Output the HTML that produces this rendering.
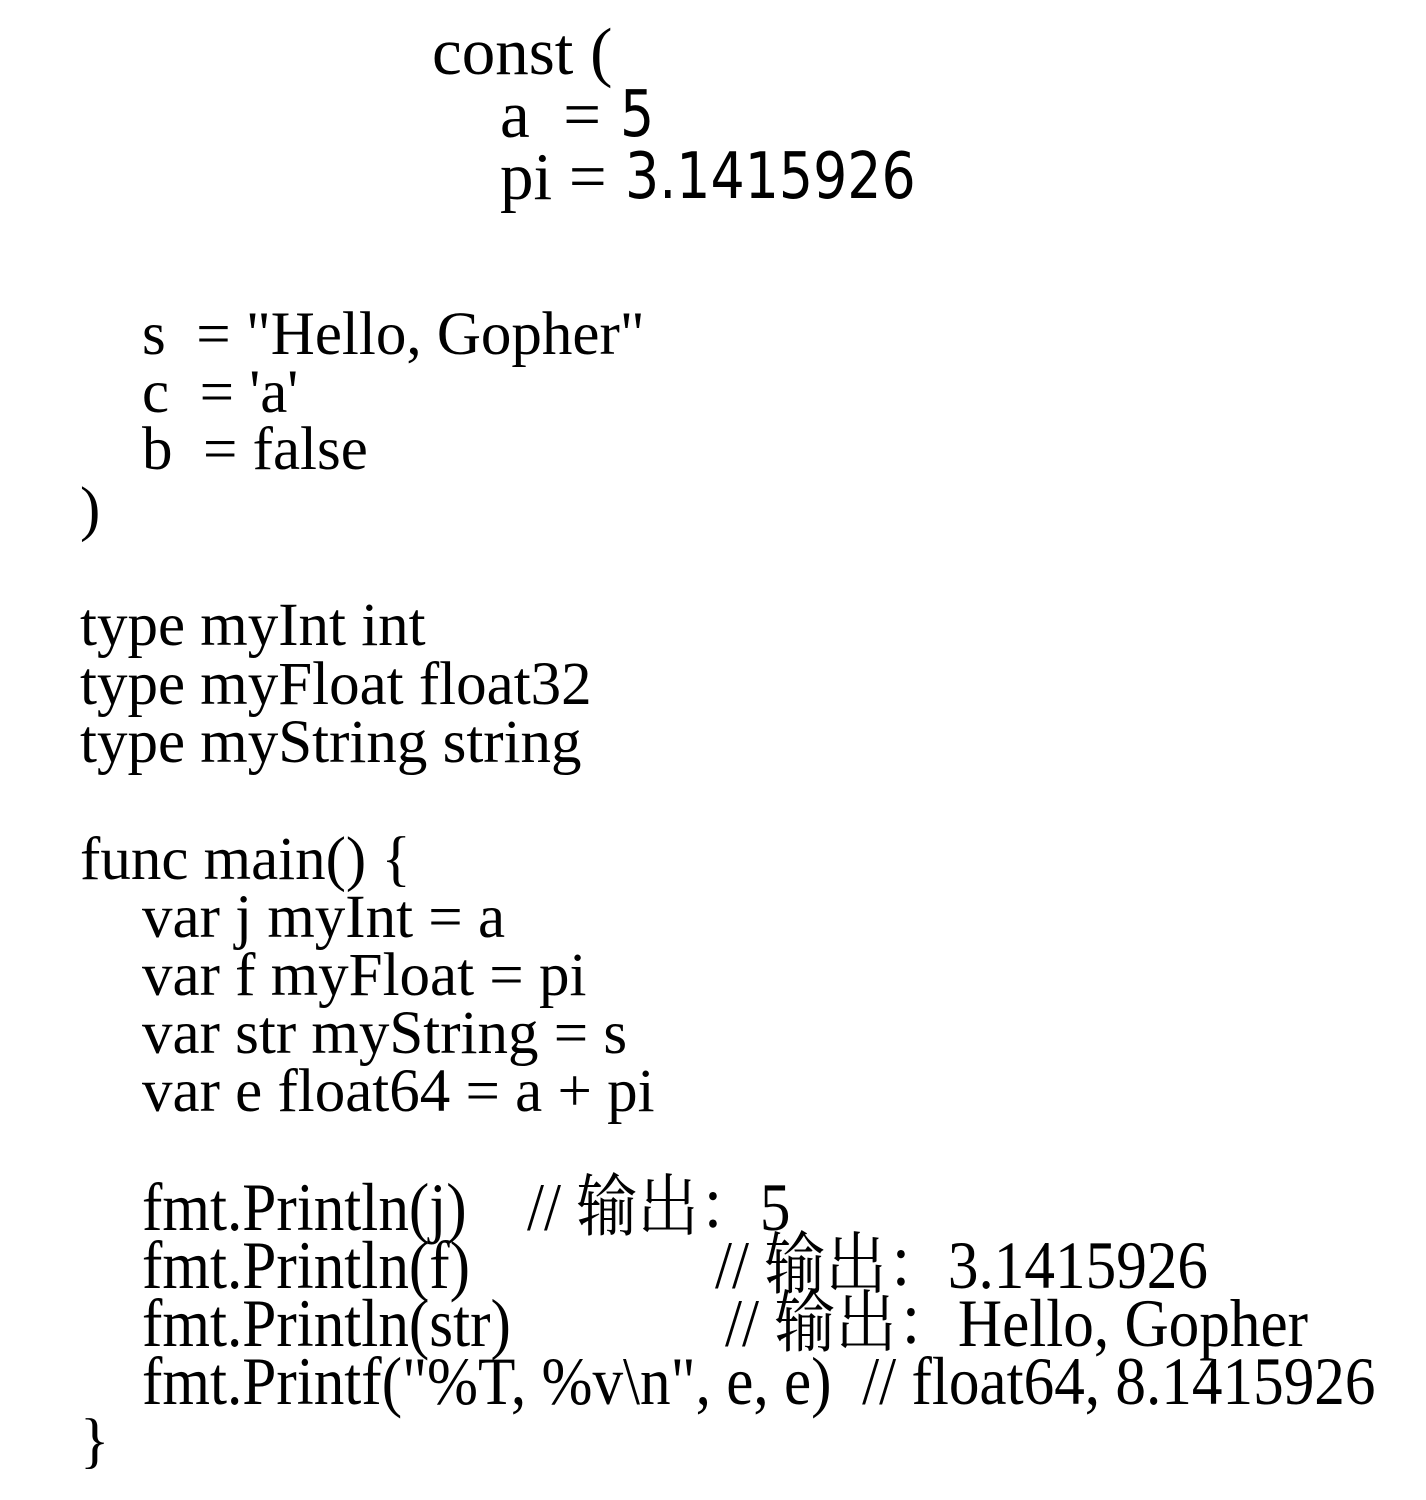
<!DOCTYPE html>
<html><head><meta charset="utf-8"><style>
html,body{margin:0;padding:0;background:#fff;}
body{width:1426px;height:1500px;position:relative;overflow:hidden;}
.l{position:absolute;font-family:"Liberation Serif","Noto Serif CJK SC",serif;font-size:61px;line-height:60px;white-space:pre;color:#000;transform-origin:0 0;}
.t{font-size:67px;}
.s{position:absolute;font-family:"DejaVu Sans","Liberation Sans",sans-serif;font-size:64px;line-height:60px;white-space:pre;transform:scaleX(0.84);transform-origin:0 0;}
.c{font-size:68px;transform:scaleX(0.9);}
</style></head><body>
<div class="l t" style="left:432px;top:22px">const (</div>
<div class="l t" style="left:500px;top:85px">a  =</div>
<div class="s" style="left:620px;top:85px">5</div>
<div class="l t" style="left:500px;top:147px">pi =</div>
<div class="s" style="left:625px;top:147px">3.1415926</div>
<div class="l" style="left:142px;top:305px">s  = "Hello, Gopher"</div>
<div class="l" style="left:142px;top:363px">c  = 'a'</div>
<div class="l" style="left:142px;top:420px">b  = false</div>
<div class="l" style="left:80px;top:480px">)</div>
<div class="l" style="left:80px;top:596px">type myInt int</div>
<div class="l" style="left:80px;top:655px">type myFloat float32</div>
<div class="l" style="left:80px;top:713px">type myString string</div>
<div class="l" style="left:80px;top:830px">func main() {</div>
<div class="l" style="left:142px;top:888px">var j myInt = a</div>
<div class="l" style="left:142px;top:946px">var f myFloat = pi</div>
<div class="l" style="left:142px;top:1004px">var str myString = s</div>
<div class="l" style="left:142px;top:1062px">var e float64 = a + pi</div>
<div class="l c" style="left:142px;top:1177px">fmt.Println(j)</div>
<div class="l c" style="left:527px;top:1177px">// 输出：5</div>
<div class="l c" style="left:142px;top:1235px">fmt.Println(f)</div>
<div class="l c" style="left:715px;top:1235px">// 输出：3.1415926</div>
<div class="l c" style="left:142px;top:1293px">fmt.Println(str)</div>
<div class="l c" style="left:725px;top:1293px">// 输出：Hello, Gopher</div>
<div class="l c" style="left:142px;top:1351px">fmt.Printf("%T, %v\n", e, e)  // float64, 8.1415926</div>
<div class="l" style="left:80px;top:1412px">}</div>
</body></html>
